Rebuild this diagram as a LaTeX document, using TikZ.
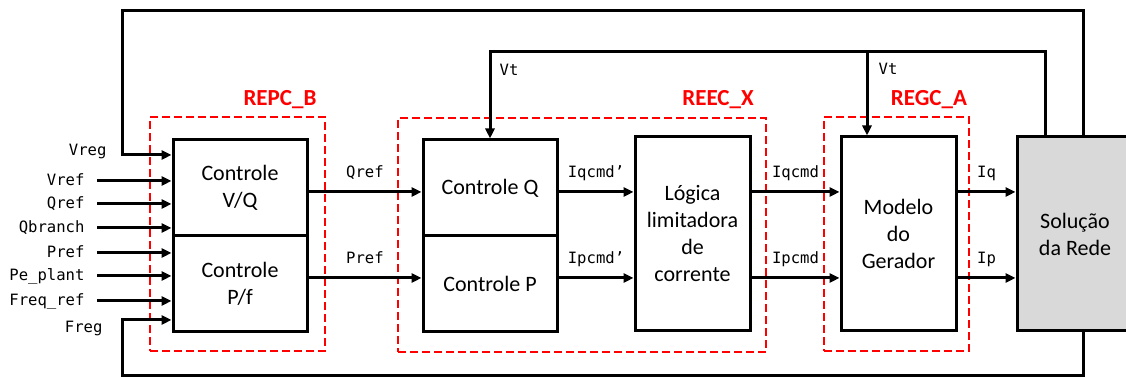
\documentclass[tikz,border=0pt]{standalone}
\usepackage{fontspec}
\setmainfont{Carlito}
\newfontfamily\lblfont{DejaVu Sans Mono}
\usetikzlibrary{arrows.meta}

\newcommand\blkfont{\fontsize{11pt}{13.5pt}\selectfont}
\newcommand\sigfont{\lblfont\fontsize{7.8pt}{9pt}\selectfont}
\newcommand\grpfont{\bfseries\fontsize{11.5pt}{13pt}\selectfont}

\tikzset{
  blk/.style={draw, line width=1.5pt, inner sep=0pt, align=center, font=\blkfont},
  grp/.style={draw=red, line width=1.2pt, dash pattern=on 4pt off 2pt, inner sep=0pt},
  grptxt/.style={text=red, font=\grpfont, inner sep=0pt},
  sig/.style={font=\sigfont, inner sep=0pt, text height=5.8pt, text depth=1.6pt},
}

\begin{document}
\begin{tikzpicture}[x=0.5pt, y=-0.5pt, line width=1.5pt, >={Triangle[length=5pt,width=4.5pt]}]
\useasboundingbox (0,0) rectangle (1126,378);
\clip (0,0) rectangle (1126,378);

% grupos
\node[grp, minimum width=87.5pt, minimum height=117pt] (repc) at (237.5,234) {};
\node[grp, minimum width=184pt, minimum height=117pt] (reec) at (582,235) {};
\node[grp, minimum width=72.5pt, minimum height=117pt] (regc) at (896.5,234) {};
\node[grptxt] (trepc) at (280,100) {REPC\_B};
\node[grptxt] (treec) at (718,100) {REEC\_X};
\node[grptxt] (tregc) at (929,100) {REGC\_A};

% blocos
\node[blk, minimum width=67pt, minimum height=48pt] (vq) at (240,188) {Controle\\V/Q};
\node[blk, minimum width=67pt, minimum height=48pt] (pf) at (240,284) {Controle\\P/f};
\node[blk, minimum width=67pt, minimum height=48pt] (cq) at (490,188) {Controle Q};
\node[blk, minimum width=67pt, minimum height=48pt] (cp) at (490,284) {Controle P};
\node[blk, minimum width=57.5pt, minimum height=97pt] (lim) at (692.5,234) {Lógica\\limitadora\\de\\corrente};
\node[blk, minimum width=57.5pt, minimum height=97pt] (gen) at (898.5,234) {Modelo\\do\\Gerador};
\node[blk, fill=gray!30, minimum width=58pt, minimum height=97pt] (rede) at (1075,234) {Solução\\da Rede};

% entradas
\foreach \y/\t/\b [count=\i] in {181/Vref/vq, 204/Qref/vq, 228/Qbranch/vq, 253/Pref/pf, 276/Pe\_plant/pf, 301/Freq\_ref/pf}{
	\node[sig, anchor=east] (in\i) at (86,\y) {\t};
	\draw[->] ([xshift=5.5pt]in\i.east) -- (in\i.east -| \b.west);
}

% realimentacoes
\coordinate (topR) at (1083,11);
\coordinate (topL) at (122,11);
\coordinate (botR) at (1083,376);
\coordinate (botL) at (122,376);
\coordinate (vregin) at (122,155);
\coordinate (fregin) at (122,320);
\draw[->] (rede.north -| topR) -- (topR) -- (topL) -- (vregin) -- (vregin -| vq.west);
\draw[->] (rede.south -| botR) -- (botR) -- (botL) -- (fregin) -- (fregin -| pf.west);
\node[sig, anchor=east] (vreg) at (108,151) {Vreg};
\node[sig, anchor=east] (freg) at (104,328) {Freg};

% Vt
\coordinate (vtR) at (1045,52);
\coordinate (vtG) at (867,52);
\draw[->] (rede.north -| vtR) -- (vtR) -- (vtR -| cq.north) -- (cq.north);
\draw[->] (vtG) -- (vtG |- gen.north);
\node[sig] (vt1) at (509,71) {Vt};
\node[sig] (vt2) at (888,70) {Vt};

% sinais entre blocos
\coordinate (qy) at (0,192);
\coordinate (py) at (0,278);
\foreach \a/\b/\t [count=\i] in {vq/cq/Qref, cq/lim/Iqcmd’, lim/gen/Iqcmd, gen/rede/Iq}{
	\draw[->] (\a.east |- qy) -- node[sig, above=5pt] (sq\i) {\t} (\b.west |- qy);
}
\foreach \a/\b/\t [count=\i] in {pf/cp/Pref, cp/lim/Ipcmd’, lim/gen/Ipcmd, gen/rede/Ip}{
	\draw[->] (\a.east |- py) -- node[sig, above=5pt] (sp\i) {\t} (\b.west |- py);
}

\end{tikzpicture}
\end{document}
